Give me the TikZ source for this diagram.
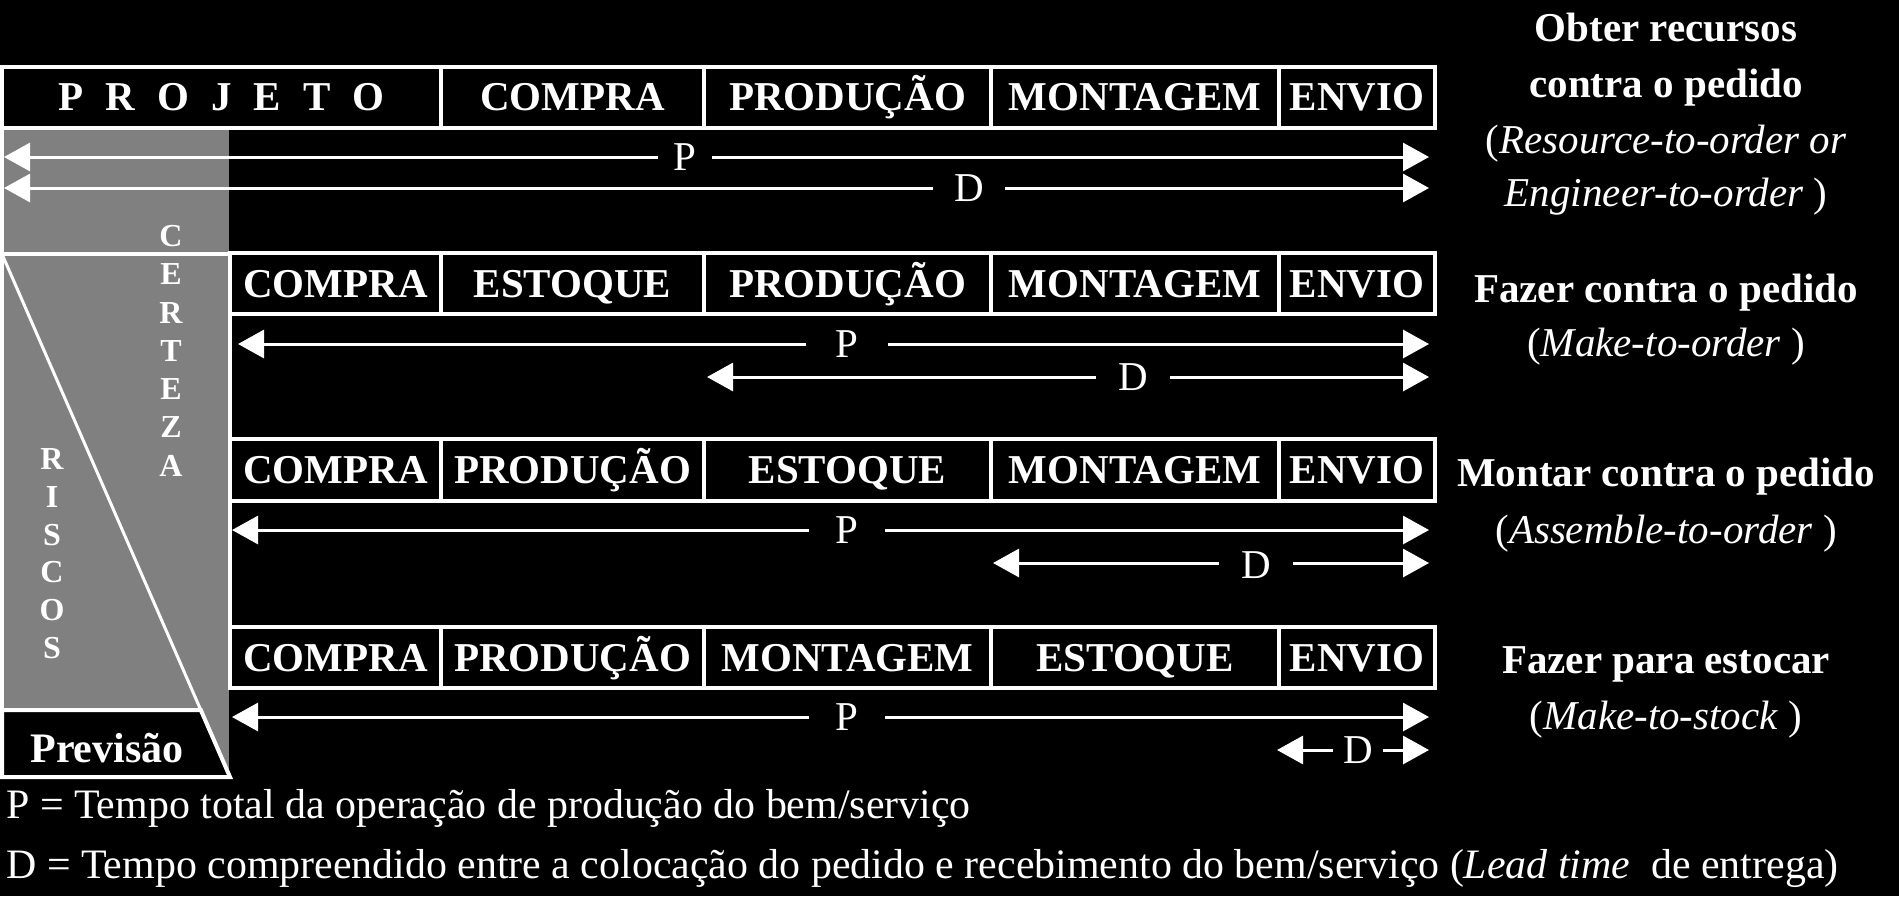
\documentclass[tikz,border=0pt]{standalone}
\usepackage{fontspec}
\setmainfont{Liberation Serif}
\usetikzlibrary{arrows.meta}
\newcommand\bxf{\fontsize{20.5pt}{24pt}\selectfont\bfseries}
\newcommand\rgf{\fontsize{20.5pt}{24pt}\selectfont}
\newcommand\lgf{\fontsize{20.95pt}{24pt}\selectfont}
\newcommand\smf{\fontsize{16pt}{18pt}\selectfont\bfseries}
\definecolor{panelgray}{RGB}{128,128,128}
\tikzset{
  cell/.style={draw=white, line width=2pt, fill=black, text=white, font=\bxf,
    minimum height=30.5pt, inner sep=0pt, text height=13.5pt, text depth=0pt},
  arr/.style={draw=white, line width=1.5pt,
    {Triangle[length=13pt,width=14pt]}-{Triangle[length=13pt,width=14pt]}},
  lbl/.style={fill=black, text=white, font=\rgf, inner ysep=2pt,
    text height=13.5pt, text depth=0pt},
  rlab/.style={text=white, anchor=base, inner sep=0pt},
  vlet/.style={text=white, font=\smf, inner sep=0pt},
  legend/.style={text=white, font=\lgf, anchor=base west, inner sep=0pt},
  wline/.style={draw=white, line width=2pt}
}
\begin{document}
\begin{tikzpicture}[x=0.5pt,y=-0.5pt]
\fill[black] (0,0) rectangle (1899,896);
\useasboundingbox (0,0) rectangle (1899,896);

% left panel
\fill[panelgray] (2,127) rectangle (229,777);
\draw[wline] (2,127) -- (2,777);
\draw[wline] (0,777) -- (230,777);
\draw[wline] (2,254) -- (228,254);
\filldraw[draw=white, line width=2pt, fill=black] (2,710) -- (200.8,710) -- (230,777) -- (2,777) -- cycle;
\draw[white, line width=1.5pt] (2,254) -- (230,777);
\draw[wline] (230,253) -- (230,688);

\node[text=white, font=\fontsize{21pt}{24pt}\selectfont\bfseries, anchor=base, inner sep=0pt] (prev) at (107,762) {Previsão};

% CERTEZA
\foreach \l [count=\i from 0] in {C,E,R,T,E,Z,A}
  \node[vlet] (cz\i) at (171,236+38.3*\i) {\l};
% RISCOS
\foreach \l [count=\i from 0] in {R,I,S,C,O,S}
  \node[vlet] (rs\i) at (52,459+37.8*\i) {\l};

% row 1
\node[cell, minimum width=219.5pt] (r1c1) at (221.5,97) {P\hspace{11pt}R\hspace{11pt}O\hspace{11pt}J\hspace{11pt}E\hspace{11pt}T\hspace{11pt}O};
\node[cell, minimum width=131.5pt] (r1c2) at (572.5,97) {COMPRA};
\node[cell, minimum width=143.5pt] (r1c3) at (847.5,97) {PRODUÇÃO};
\node[cell, minimum width=144pt] (r1c4) at (1135,97) {MONTAGEM};
\node[cell, minimum width=78pt] (r1c5) at (1357,97) {ENVIO};

% row 2
\node[cell, minimum width=105.5pt] (r2c1) at (335.5,283.5) {COMPRA};
\node[cell, minimum width=131.5pt] (r2c2) at (572.5,283.5) {ESTOQUE};
\node[cell, minimum width=143.5pt] (r2c3) at (847.5,283.5) {PRODUÇÃO};
\node[cell, minimum width=144pt] (r2c4) at (1135,283.5) {MONTAGEM};
\node[cell, minimum width=78pt] (r2c5) at (1357,283.5) {ENVIO};

% row 3
\node[cell, minimum width=105.5pt, minimum height=31pt] (r3c1) at (335.5,470) {COMPRA};
\node[cell, minimum width=131.5pt, minimum height=31pt] (r3c2) at (572.5,470) {PRODUÇÃO};
\node[cell, minimum width=143.5pt, minimum height=31pt] (r3c3) at (847.5,470) {ESTOQUE};
\node[cell, minimum width=144pt, minimum height=31pt] (r3c4) at (1135,470) {MONTAGEM};
\node[cell, minimum width=78pt, minimum height=31pt] (r3c5) at (1357,470) {ENVIO};

% row 4
\node[cell, minimum width=105.5pt] (r4c1) at (335.5,657.5) {COMPRA};
\node[cell, minimum width=131.5pt] (r4c2) at (572.5,657.5) {PRODUÇÃO};
\node[cell, minimum width=143.5pt] (r4c3) at (847.5,657.5) {MONTAGEM};
\node[cell, minimum width=144pt] (r4c4) at (1135,657.5) {ESTOQUE};
\node[cell, minimum width=78pt] (r4c5) at (1357,657.5) {ENVIO};

% arrow end points
\coordinate (p1l) at (4,157);   \coordinate (p1r) at (1429,157);
\coordinate (d1l) at (4,188);   \coordinate (d1r) at (1429,188);
\coordinate (p2l) at (238,344); \coordinate (p2r) at (1429,344);
\coordinate (d2l) at (707,377); \coordinate (d2r) at (1429,377);
\coordinate (p3l) at (232,530); \coordinate (p3r) at (1429,530);
\coordinate (d3l) at (993,563); \coordinate (d3r) at (1429,563);
\coordinate (p4l) at (232,717); \coordinate (p4r) at (1429,717);
\coordinate (d4l) at (1277,750);\coordinate (d4r) at (1429,750);

\draw[arr] (p1l) -- (p1r);
\draw[arr] (d1l) -- (d1r);
\draw[arr] (p2l) -- (p2r);
\draw[arr] (d2l) -- (d2r);
\draw[arr] (p3l) -- (p3r);
\draw[arr] (d3l) -- (d3r);
\draw[arr] (p4l) -- (p4r);
\draw[arr] (d4l) -- (d4r);

\node[lbl, inner xsep=8pt] (lp1) at (685,157) {P};
\node[lbl, inner xsep=10.5pt] (ld1) at (969,188) {D};
\node[lbl, inner xsep=15pt] (lp2) at (847,344) {P};
\node[lbl, inner xsep=11pt] (ld2) at (1133,377) {D};
\node[lbl, inner xsep=13.5pt] (lp3) at (847,530) {P};
\node[lbl, inner xsep=11pt] (ld3) at (1256,565) {D};
\node[lbl, inner xsep=13.5pt] (lp4) at (847,717) {P};
\node[lbl, inner xsep=5pt] (ld4) at (1358,750) {D};

% right labels
\node[rlab, font=\bxf] (t1a) at (1666,41) {Obter recursos};
\node[rlab, font=\bxf] (t1b) at (1666,97) {contra o pedido};
\node[rlab, font=\rgf] (t1c) at (1666,153) {(\textit{Resource-to-order or}};
\node[rlab, font=\rgf] (t1d) at (1666,206) {\textit{Engineer-to-order} )};
\node[rlab, font=\bxf] (t2a) at (1666,302) {Fazer contra o pedido};
\node[rlab, font=\rgf] (t2b) at (1666,356) {(\textit{Make-to-order} )};
\node[rlab, font=\bxf] (t3a) at (1666,486) {Montar contra o pedido};
\node[rlab, font=\rgf] (t3b) at (1666,543) {(\textit{Assemble-to-order} )};
\node[rlab, font=\bxf] (t4a) at (1666,673) {Fazer para estocar};
\node[rlab, font=\rgf] (t4b) at (1666,729) {(\textit{Make-to-stock} )};

% legend
\node[legend] (legp) at (6,818) {P = Tempo total da operação de produção do bem/serviço};
\node[legend] (legd) at (6,878) {D = Tempo compreendido entre a colocação do pedido e recebimento do bem/serviço (\textit{Lead time}\ \ de entrega)};
\end{tikzpicture}
\end{document}
